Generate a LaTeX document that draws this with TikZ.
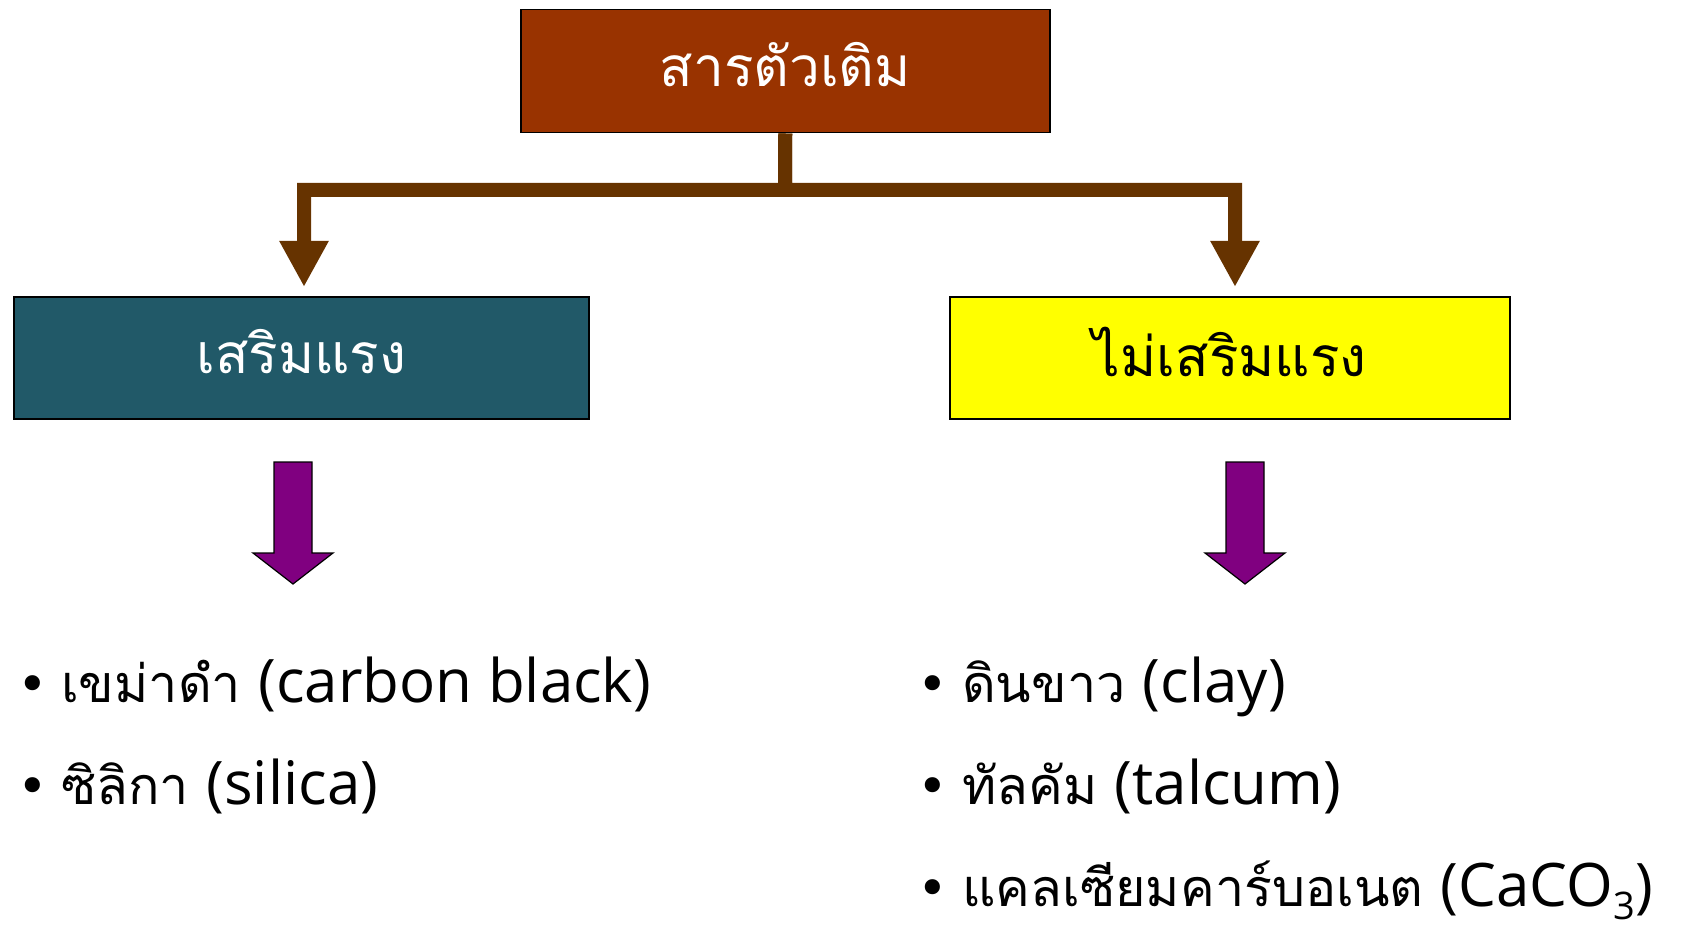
\documentclass[tikz,border=0pt]{standalone}
\usepackage{fontspec}
\newfontfamily\thaifont[Script=Thai]{Loma}
\newfontfamily\latfont{Open Sans}
\newfontfamily\symfont{DejaVu Sans}
\newcommand\latn[1]{{\latfont\fontsize{60}{64}\selectfont #1}}
\usetikzlibrary{arrows.meta}
\definecolor{topfill}{HTML}{993300}
\definecolor{conn}{HTML}{663300}
\definecolor{teal}{HTML}{215968}
\definecolor{yel}{HTML}{FFFF00}
\definecolor{purp}{HTML}{800080}
\tikzset{
  hbox/.style={draw=black, line width=1.5pt, inner sep=0pt, minimum height=123pt, anchor=north west},
  conline/.style={draw=conn, line width=14pt, -{Triangle[width=46pt,length=46pt]}, shorten >=9pt},
  blockarrow/.style={draw=black, line width=1.2pt, fill=purp},
  item/.style={anchor=base west, inner sep=0pt, font=\thaifont\fontsize{52}{60}\selectfont},
  bul/.style={anchor=base, inner sep=0pt, font=\symfont\fontsize{52}{56}\selectfont},
}
\begin{document}
\begin{tikzpicture}[x=1pt,y=-1pt]
\useasboundingbox (0,0) rectangle (1682,928);
% boxes
\node[hbox, fill=topfill, minimum width=529pt, text=white, font=\thaifont\fontsize{55}{60}\selectfont] (top) at (520,9) {\raisebox{13pt}{สารตัวเติม}};
\node[hbox, fill=teal, minimum width=575pt, minimum height=122pt, text=white, font=\thaifont\fontsize{55}{60}\selectfont] (rein) at (13,296) {\raisebox{12pt}{เสริมแรง}};
\node[hbox, fill=yel, minimum width=560pt, minimum height=122pt, text=black, font=\thaifont\fontsize{55}{60}\selectfont] (nonrein) at (949,296) {\raisebox{12pt}{ไม่เสริมแรง}};
% connectors
\coordinate (bar) at (785,190);
\coordinate (lt) at (304,296);
\coordinate (rt) at (1235,296);
\draw[conline] (top.south) -- (bar) -| (lt);
\draw[conline] (top.south) -- (bar) -| (rt);
% block arrows
\draw[blockarrow] (274,462) -- (312,462) -- (312,553) -- (333,553) -- (293,584) -- (253,553) -- (274,553) -- cycle;
\draw[blockarrow] (1226,462) -- (1264,462) -- (1264,553) -- (1285,553) -- (1245,584) -- (1205,553) -- (1226,553) -- cycle;
% lists
\node[bul] (b1) at (33,702) {•};
\node[item] (i1) at (61,702) {เขม่าดำ \latn{(carbon black)}};
\node[bul] (b2) at (33,804) {•};
\node[item] (i2) at (61,804) {ซิลิกา \latn{(silica)}};
\node[bul] (b3) at (933,702) {•};
\node[item] (i3) at (962,702) {ดินขาว \latn{(clay)}};
\node[bul] (b4) at (933,804) {•};
\node[item] (i4) at (962,804) {ทัลคัม \latn{(talcum)}};
\node[bul] (b5) at (933,906) {•};
\node[item] (i5) at (962,906) {แคลเซียมคาร์บอเนต \latn{(CaCO\raisebox{-13pt}{\fontsize{38}{40}\selectfont 3})}};
\end{tikzpicture}
\end{document}
